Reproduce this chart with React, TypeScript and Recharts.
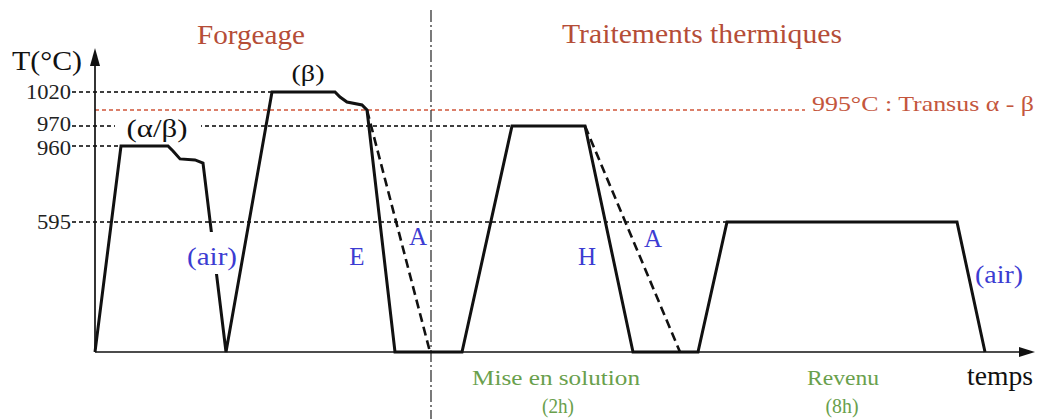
import React from "react";
import { LineChart, Line, XAxis, YAxis, ReferenceLine, ReferenceDot } from "recharts";

// Schematic time (arbitrary units) and temperature (°C) of the whole cycle
const cycleTime = [0, 26, 73, 78, 85, 100, 108, 131, 177, 240, 245, 252, 267, 272, 300, 367, 417, 490, 538, 603, 632, 862, 890];
const cycleTemp = [20, 960, 960, 936, 898, 893, 878, 20, 1020, 1020, 1013, 1006, 1002, 995, 20, 20, 970, 970, 20, 20, 595, 595, 20];

// alternative air cooling (A) after forging and after solution treatment
const airForgeTime = [272, 335];
const airForgeTemp = [995, 20];
const airSolTime = [490, 585];
const airSolTemp = [970, 20];

const tempTicks = [595, 960, 970, 1020];
const transusTemp = 995;
const phaseLimit = 336; // forgeage | traitements thermiques

// broken (schematic) temperature axis: temperature -> drawing height
const axisTemps = [20, 595, 960, 970, 995, 1020];
const axisHeights = [0, 130, 206, 226, 242, 260];

const level = (T: number) => {
  for (let i = 1; i < axisTemps.length; i++) {
    if (T <= axisTemps[i]) {
      const a = axisTemps[i - 1];
      const b = axisTemps[i];
      return axisHeights[i - 1] + ((T - a) / (b - a)) * (axisHeights[i] - axisHeights[i - 1]);
    }
  }
  return axisHeights[axisHeights.length - 1];
};

const toRows = (ts: number[], temps: number[]) => ts.map((t, i) => ({ t, v: level(temps[i]) }));

const cycleData = toRows(cycleTime, cycleTemp);
const airForgeData = toRows(airForgeTime, airForgeTemp);
const airSolData = toRows(airSolTime, airSolTemp);

const plateauStart = (T: number) => cycleTime[cycleTemp.indexOf(T)];

const SERIF = '"Liberation Serif", "Times New Roman", Times, serif';
const BLUE = "#3c3cd2";
const RED = "#b54d37";
const GREEN = "#69a04c";

type NoteOpts = {
  size?: number;
  color?: string;
  anchor?: "start" | "middle" | "end";
  width?: number;
  mask?: { x: number; y: number; w: number; h: number };
};

const note = (text: string, o: NoteOpts = {}) => (p: any) => (
  <g>
    {o.mask && (
      <rect x={p.cx + o.mask.x} y={p.cy + o.mask.y} width={o.mask.w} height={o.mask.h} fill="#fff" />
    )}
    <text
      x={p.cx}
      y={p.cy}
      fill={o.color || "#111"}
      fontFamily={SERIF}
      fontSize={o.size || 24}
      textAnchor={o.anchor || "middle"}
      {...(o.width ? { textLength: o.width, lengthAdjust: "spacingAndGlyphs" } : {})}
    >
      {text}
    </text>
  </g>
);

const arrowUp = (p: any) => (
  <polygon points={`${p.cx},${p.cy} ${p.cx - 5},${p.cy + 18} ${p.cx + 5},${p.cy + 18}`} fill="#111" />
);
const arrowRight = (p: any) => (
  <polygon points={`${p.cx},${p.cy} ${p.cx - 16},${p.cy - 5} ${p.cx - 16},${p.cy + 5}`} fill="#111" />
);

// tick labels, the two close ones (960 / 970) pushed slightly apart
const TempTick = (p: any) => {
  const T = tempTicks.find((t) => Math.abs(level(t) - p.payload.value) < 0.01);
  if (T === undefined) return null;
  const nudge = T === 970 ? -2 : T === 960 ? 2 : 0;
  return (
    <text
      x={p.x}
      y={p.y + nudge}
      dy="0.355em"
      textAnchor="end"
      fill="#222"
      fontSize={21}
      fontFamily={SERIF}
      textLength={T >= 1000 ? 45 : 34}
      lengthAdjust="spacingAndGlyphs"
    >
      {T}
    </text>
  );
};

export default function App() {
  return (
    <div style={{ position: "absolute", left: 0, top: 0, width: 1037, height: 419, background: "#fff" }}>
      <LineChart width={1037} height={419} margin={{ top: 0, right: 0, bottom: 0, left: 0 }}>
        <XAxis type="number" dataKey="t" domain={[-23, 942]} allowDataOverflow hide />
        <YAxis
          type="number"
          domain={[-67, 352]}
          allowDataOverflow
          width={72}
          ticks={tempTicks.map(level)}
          interval={0}
          axisLine={false}
          tickLine={false}
          tickSize={0}
          tickMargin={1}
          tick={<TempTick />}
        />

        {/* temperature guide lines */}
        {tempTicks.map((T) => (
          <ReferenceLine
            key={T}
            segment={[
              { x: -23, y: level(T) },
              { x: plateauStart(T), y: level(T) },
            ]}
            stroke="#000"
            strokeWidth={1.4}
            strokeDasharray="4 3"
          />
        ))}
        <ReferenceLine
          segment={[
            { x: 0, y: level(transusTemp) },
            { x: 710, y: level(transusTemp) },
          ]}
          stroke="#d0553a"
          strokeWidth={1.3}
          strokeDasharray="4 3"
        />
        <ReferenceLine
          segment={[
            { x: phaseLimit, y: 342 },
            { x: phaseLimit, y: -67 },
          ]}
          stroke="#333"
          strokeWidth={1.3}
          strokeDasharray="12 3 2 3"
        />

        {/* axes */}
        <ReferenceLine segment={[{ x: 0, y: 0 }, { x: 0, y: 290 }]} stroke="#111" strokeWidth={1.7} />
        <ReferenceLine segment={[{ x: 0, y: 0 }, { x: 925, y: 0 }]} stroke="#111" strokeWidth={1.7} />

        <Line data={cycleData} dataKey="v" type="linear" stroke="#111" strokeWidth={3} dot={false} activeDot={false} isAnimationActive={false} />
        <Line data={airForgeData} dataKey="v" type="linear" stroke="#111" strokeWidth={2.6} strokeDasharray="9 5" dot={false} activeDot={false} isAnimationActive={false} />
        <Line data={airSolData} dataKey="v" type="linear" stroke="#111" strokeWidth={2.6} strokeDasharray="9 5" dot={false} activeDot={false} isAnimationActive={false} />

        <ReferenceDot x={0} y={304} ifOverflow="visible" shape={arrowUp} />
        <ReferenceDot x={940} y={0} ifOverflow="visible" shape={arrowRight} />

        {/* annotations */}
        <ReferenceDot x={156} y={308} ifOverflow="visible" shape={note("Forgeage", { size: 28, color: RED, width: 108 })} />
        <ReferenceDot x={607} y={309} ifOverflow="visible" shape={note("Traitements thermiques", { size: 28, color: RED, width: 280 })} />
        <ReferenceDot x={-83} y={282} ifOverflow="visible" shape={note("T(°C)", { size: 27, anchor: "start", width: 70 })} />
        <ReferenceDot x={213} y={271} ifOverflow="visible" shape={note("(β)", { size: 24, width: 33 })} />
        <ReferenceDot
          x={62}
          y={215}
          ifOverflow="visible"
          shape={note("(α/β)", { size: 26, width: 61, mask: { x: -42, y: -20, w: 86, h: 22 } })}
        />
        <ReferenceDot
          x={117}
          y={87}
          ifOverflow="visible"
          shape={note("(air)", { size: 25, color: BLUE, width: 50, mask: { x: -25, y: -33, w: 49, h: 42 } })}
        />
        <ReferenceDot x={262} y={87} ifOverflow="visible" shape={note("E", { size: 25, color: BLUE })} />
        <ReferenceDot x={323} y={107} ifOverflow="visible" shape={note("A", { size: 25, color: BLUE })} />
        <ReferenceDot x={492} y={87} ifOverflow="visible" shape={note("H", { size: 25, color: BLUE })} />
        <ReferenceDot x={558} y={105} ifOverflow="visible" shape={note("A", { size: 25, color: BLUE })} />
        <ReferenceDot x={904} y={69} ifOverflow="visible" shape={note("(air)", { size: 25, color: BLUE, width: 48 })} />
        <ReferenceDot
          x={717}
          y={241}
          ifOverflow="visible"
          shape={note("995°C : Transus α - β", { size: 21, color: "#c4563d", anchor: "start", width: 222 })}
        />
        <ReferenceDot x={461} y={-33} ifOverflow="visible" shape={note("Mise en solution", { size: 22, color: GREEN, width: 168 })} />
        <ReferenceDot x={463} y={-61} ifOverflow="visible" shape={note("(2h)", { size: 22, color: GREEN, width: 32 })} />
        <ReferenceDot x={748} y={-33} ifOverflow="visible" shape={note("Revenu", { size: 22, color: GREEN, width: 72 })} />
        <ReferenceDot x={747} y={-61} ifOverflow="visible" shape={note("(8h)", { size: 22, color: GREEN, width: 33 })} />
        <ReferenceDot x={872} y={-33} ifOverflow="visible" shape={note("temps", { size: 28, anchor: "start", width: 66 })} />
      </LineChart>
    </div>
  );
}
